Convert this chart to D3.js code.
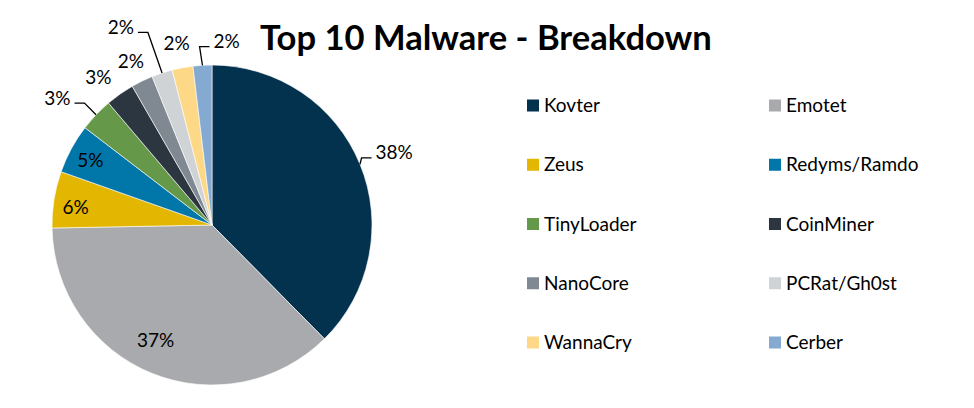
<!DOCTYPE html>
<html><head><meta charset="utf-8">
<script src="https://cdn.jsdelivr.net/npm/d3@7"></script>
<style>body{margin:0;background:#fff;}svg{display:block;font-family:Lato,"Open Sans",sans-serif;}</style>
</head><body><svg id="c" width="974" height="408"></svg>
<script>
// ---- data ----
const categories = ["Kovter","Emotet","Zeus","Redyms/Ramdo","TinyLoader","CoinMiner","NanoCore","PCRat/Gh0st","WannaCry","Cerber"];
const shares = [37.6, 37.1, 5.7, 5.0, 3.4, 2.9, 2.2, 2.1, 2.1, 1.9];
const pctLabels = ["38%","37%","6%","5%","3%","3%","2%","2%","2%","2%"];
const colors = ["#03324f","#a9aaad","#e2b601","#0077a8","#66984a","#2c3640","#808892","#d0d3d6","#fdd886","#84aad1"];
const title = "Top 10 Malware - Breakdown";

// ---- label layout (radius factor, angle shift in deg, leader flag) ----
const labelRadius = [1.225, 0.80, 0.86, 0.86, 1.25, 1.165, 1.14, 1.36, 1.155, 1.15];
const labelShift  = [0.7, 4, -1.7, -0.6, -4.2, -2.5, -0.5, -6.6, -0.4, 8];
const hasLeader   = [true,false,false,false,true,false,false,true,false,true];

const svg = d3.select("#c");
const cx = 212, cy = 225, R = 160;

// title
const t = svg.append("text").attr("x", 260).attr("y", 50)
  .attr("font-weight", 700).attr("font-size", 33).attr("fill", "#000").text(title);
const tw = t.node().getComputedTextLength();
t.attr("font-size", 33 * 452 / tw);

const pie = d3.pie().value(d => d).sort(null);
const arcs = pie(shares);
const arc = d3.arc().innerRadius(0).outerRadius(R);
const g = svg.append("g").attr("transform", `translate(${cx},${cy})`);
g.selectAll("path.slice").data(arcs).join("path")
  .attr("class","slice").attr("d", arc)
  .attr("fill", (d,i) => colors[i]).attr("stroke", "#fff").attr("stroke-width", 0.6);

const toRad = Math.PI/180;
function polar(r, a){ return [r*Math.sin(a), -r*Math.cos(a)]; }

arcs.forEach((d,i) => {
  const mid = (d.startAngle + d.endAngle)/2;
  const la = mid + labelShift[i]*toRad;
  const [lx, ly] = polar(R*labelRadius[i], la);
  const txt = g.append("text").attr("x", lx).attr("y", ly).attr("dy", "0.35em")
    .attr("text-anchor","middle").attr("font-size", 19).attr("fill","#000").text(pctLabels[i]);
  if (hasLeader[i]) {
    const w = txt.node().getComputedTextLength();
    const [ex, ey] = polar(R, mid);
    const right = lx > ex;
    const endX = right ? lx - w/2 - 4 : lx + w/2 + 4;
    const endY = ly + 5;
    const elbowX = right ? endX - 10 : endX + 10;
    g.append("path").attr("d", d3.line()([[ex,ey],[elbowX,endY],[endX,endY]]))
      .attr("fill","none").attr("stroke","#000").attr("stroke-width",1.3);
  }
});

// legend
const rows = d3.scalePoint().domain(d3.range(5)).range([105.5, 342.5]);
const cols = d3.scalePoint().domain([0,1]).range([527, 769]);
const leg = svg.append("g");
categories.forEach((c,i) => {
  const x = cols(i%2), y = rows(Math.floor(i/2));
  leg.append("rect").attr("x", x).attr("y", y-6).attr("width", 12).attr("height", 12).attr("fill", colors[i]);
  leg.append("text").attr("x", x+17).attr("y", y).attr("dy","0.35em")
    .attr("font-size", 19).attr("fill","#000").text(c);
});
</script></body></html>
